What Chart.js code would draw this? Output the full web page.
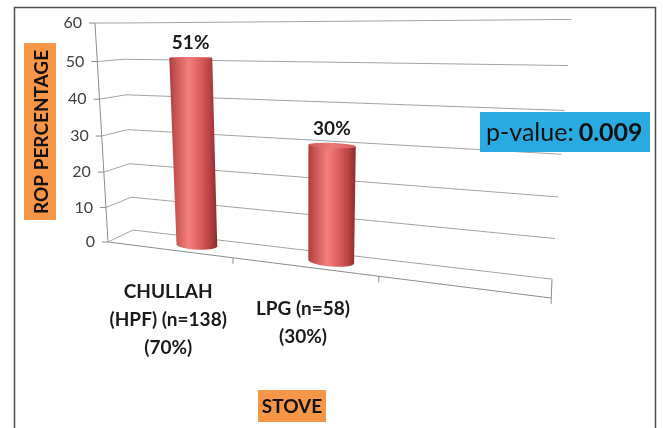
<!DOCTYPE html>
<html><head><meta charset="utf-8">
<script src="https://cdn.jsdelivr.net/npm/chart.js@4.4.1/dist/chart.umd.min.js"></script>
<style>html,body{margin:0;padding:0;background:#fff;}canvas{display:block;}</style>
</head><body>
<canvas id="c" width="663" height="428"></canvas>
<script>
// ---- data ----
const CATEGORIES = [['CHULLAH', '(HPF) (n=138)', '(70%)'], ['LPG (n=58)', '(30%)'], ''];
const ROP_PERCENT = [51, 30, null];
const VALUE_LABELS = ['51%', '30%', ''];
const Y_TICKS = [0, 10, 20, 30, 40, 50, 60];
const Y_TITLE = 'ROP PERCENTAGE';
const X_TITLE = 'STOVE';
const P_LABEL = 'p-value:';
const P_VALUE = '0.009';

// ---- 3D look (camera of the pseudo-3D box) ----
const CAM = {x0:108, xu:325.2, xf:-18.9, xd:32.7, y0:242, yu:-7.7, yf:-220.4, yd:1.3, g:-0.2138, h:-0.062, k:0.0578};
const BAR_SHIFT = 0.046, BAR_DEPTH = 0.5, BAR_RD = 0.3;
const FONT = 'Lato, "Open Sans", sans-serif';
function proj(u, f, d) {
  const w = 1 + CAM.g*u + CAM.h*f + CAM.k*d;
  return {x: (CAM.x0 + CAM.xu*u + CAM.xf*f + CAM.xd*d)/w, y: (CAM.y0 + CAM.yu*u + CAM.yf*f + CAM.yd*d)/w};
}
function uOf(chart, px) { const s = chart.scales.x; return (px - s.left)/(s.right - s.left); }
function fOf(chart, py) { const s = chart.scales.y; return (s.bottom - py)/(s.bottom - s.top); }
function line(ctx, a, b) { ctx.beginPath(); ctx.moveTo(a.x, a.y); ctx.lineTo(b.x, b.y); ctx.stroke(); }

function ellipsePts(uc, ru, f, n) {
  const pts = [];
  for (let i = 0; i < n; i++) { const t = i/n*2*Math.PI; pts.push(proj(uc + ru*Math.cos(t), f, BAR_DEPTH + BAR_RD*Math.sin(t))); }
  return pts;
}
function extremes(P) { let l = 0, r = 0; P.forEach((p, i) => { if (p.x < P[l].x) l = i; if (p.x > P[r].x) r = i; }); return [l, r]; }
function frontArc(P, a, b) {
  const N = P.length, A = [], B = [];
  for (let i = a; ; i = (i+1)%N) { A.push(P[i]); if (i === b) break; }
  for (let i = a; ; i = (i-1+N)%N) { B.push(P[i]); if (i === b) break; }
  const avg = s => s.reduce((q, p) => q + p.y, 0)/s.length;
  return avg(A) > avg(B) ? A : B;
}
function drawCylinder(ctx, uc, ru, fb, ft) {
  const N = 120;
  const B = ellipsePts(uc, ru, fb, N), T = ellipsePts(uc, ru, ft, N);
  const [bl, br] = extremes(B), [tl, tr] = extremes(T);
  const front = frontArc(B, bl, br);
  const x0 = Math.min(B[bl].x, T[tl].x), x1 = Math.max(B[br].x, T[tr].x);
  const gr = ctx.createLinearGradient(x0, 0, x1, 0);
  gr.addColorStop(0, '#a83d3d'); gr.addColorStop(0.12, '#c75252'); gr.addColorStop(0.4, '#f27e7e');
  gr.addColorStop(0.55, '#e86b6b'); gr.addColorStop(0.82, '#bf4646'); gr.addColorStop(1, '#8c2c2c');
  ctx.beginPath();
  front.forEach((p, i) => i ? ctx.lineTo(p.x, p.y) : ctx.moveTo(p.x, p.y));
  ctx.lineTo(T[tr].x, T[tr].y); ctx.lineTo(T[tl].x, T[tl].y); ctx.closePath();
  ctx.fillStyle = gr; ctx.fill();
  const gt = ctx.createLinearGradient(x0, 0, x1, 0);
  gt.addColorStop(0, '#d35a5a'); gt.addColorStop(0.5, '#ec7a7a'); gt.addColorStop(1, '#d65f5f');
  ctx.beginPath();
  T.forEach((p, i) => i ? ctx.lineTo(p.x, p.y) : ctx.moveTo(p.x, p.y));
  ctx.closePath(); ctx.fillStyle = gt; ctx.fill();
  return T;
}

class CylinderController extends Chart.BarController {
  draw() {
    const chart = this.chart, ctx = chart.ctx, meta = this._cachedMeta;
    const xs = chart.scales.x;
    ctx.save();
    ctx.beginPath(); ctx.rect(0, 0, chart.width, chart.height); ctx.clip();
    meta.data.forEach((el, i) => {
      const v = this.getParsed(i).y;
      if (v == null || isNaN(v)) return;
      const p = el.getProps(['x', 'y', 'base', 'width'], true);
      const uc = uOf(chart, p.x) + BAR_SHIFT;
      const ru = p.width/2/(xs.right - xs.left);
      const T = drawCylinder(ctx, uc, ru, fOf(chart, p.base), fOf(chart, p.y));
      const top = Math.min(...T.map(q => q.y));
      const c = proj(uc, fOf(chart, p.y), BAR_DEPTH);
      ctx.font = 'bold 19px ' + FONT; ctx.fillStyle = '#1a1a1a';
      ctx.textAlign = 'center'; ctx.textBaseline = 'middle';
      ctx.fillText(VALUE_LABELS[i], c.x, top - 14);
    });
    ctx.restore();
  }
}
CylinderController.id = 'cylinder';
CylinderController.defaults = Chart.BarController.defaults;
CylinderController.overrides = Chart.BarController.overrides;
Chart.register(CylinderController);

const box3d = {
  id: 'box3d',
  beforeDatasetsDraw(chart) {
    const ctx = chart.ctx, ys = chart.scales.y, xs = chart.scales.x;
    ctx.save();
    ctx.lineWidth = 1; ctx.strokeStyle = '#a3a3a3';
    Y_TICKS.forEach(t => {
      const f = fOf(chart, ys.getPixelForValue(t));
      const a = proj(0, f, 0), b = proj(0, f, 1), c = proj(1, f, 1);
      ctx.beginPath(); ctx.moveTo(a.x, a.y); ctx.lineTo(b.x, b.y); ctx.lineTo(c.x, c.y); ctx.stroke();
    });
    ctx.strokeStyle = '#8c8c8c';
    line(ctx, proj(0, 0, 0), proj(1, 0, 0));
    const r0 = proj(1, 0, 1), r1 = proj(1, 0, 0);
    line(ctx, r0, {x: r1.x, y: r1.y + 6});
    const n = CATEGORIES.length;
    for (let i = 1; i < n; i++) {
      const px = (xs.getPixelForValue(i - 1) + xs.getPixelForValue(i))/2;
      const q = proj(uOf(chart, px), 0, 0);
      line(ctx, q, {x: q.x, y: q.y + 6});
    }
    line(ctx, proj(0, 0, 0), proj(0, 1, 0));
    ctx.font = '16px ' + FONT; ctx.fillStyle = '#404040';
    ctx.textAlign = 'right'; ctx.textBaseline = 'middle';
    Y_TICKS.forEach(t => {
      const q = proj(0, fOf(chart, ys.getPixelForValue(t)), 0);
      line(ctx, {x: q.x - 6, y: q.y}, q);
      ctx.fillText(String(t), q.x - 13, q.y);
    });
    ctx.font = 'bold 19px ' + FONT; ctx.fillStyle = '#1a1a1a'; ctx.textAlign = 'center';
    CATEGORIES.forEach((lab, i) => {
      const lines = Array.isArray(lab) ? lab : [lab];
      const q = proj(uOf(chart, xs.getPixelForValue(i)), 0, 0);
      lines.forEach((s, j) => ctx.fillText(s, q.x, q.y + 42 + 28*j));
    });
    ctx.restore();
  },
  afterDraw(chart) {
    const ctx = chart.ctx;
    ctx.save();
    ctx.strokeStyle = '#4d4d4d'; ctx.lineWidth = 1.5;
    ctx.strokeRect(14.5, 7.5, 641, 440);
    ctx.fillStyle = '#F79646'; ctx.fillRect(24, 43, 32, 177);
    ctx.save(); ctx.translate(41, 132); ctx.rotate(-Math.PI/2);
    ctx.font = 'bold 19px ' + FONT; ctx.fillStyle = '#111'; ctx.textAlign = 'center'; ctx.textBaseline = 'middle';
    ctx.fillText(Y_TITLE, 0, 1); ctx.restore();
    ctx.fillStyle = '#F79646'; ctx.fillRect(258, 390, 68, 32);
    ctx.font = 'bold 19px ' + FONT; ctx.fillStyle = '#111'; ctx.textAlign = 'center'; ctx.textBaseline = 'middle';
    ctx.fillText(X_TITLE, 292, 407);
    ctx.fillStyle = '#29ABE2'; ctx.fillRect(480, 112, 170, 40);
    ctx.textAlign = 'left'; ctx.fillStyle = '#111';
    ctx.font = '25px ' + FONT; ctx.fillText(P_LABEL, 486, 133);
    const w = ctx.measureText(P_LABEL).width;
    ctx.font = 'bold 25px ' + FONT; ctx.fillText(P_VALUE, 486 + w + 5, 133);
    ctx.restore();
  }
};

new Chart(document.getElementById('c'), {
  type: 'cylinder',
  data: {labels: CATEGORIES, datasets: [{label: 'ROP %', data: ROP_PERCENT, categoryPercentage: 1, barPercentage: 0.31, backgroundColor: '#d9534f', clip: false}]},
  options: {
    responsive: false, animation: false, devicePixelRatio: 1,
    layout: {padding: {left: 108, top: 23, right: 112, bottom: 186}},
    plugins: {legend: {display: false}, tooltip: {enabled: false}},
    scales: {
      x: {display: false, offset: true},
      y: {display: false, min: 0, max: 60, ticks: {stepSize: 10}}
    }
  },
  plugins: [box3d]
});
</script>
</body></html>
